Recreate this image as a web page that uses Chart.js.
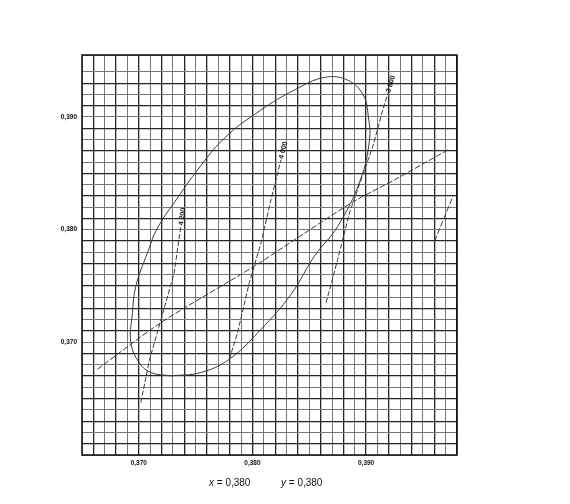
<!DOCTYPE html>
<html>
<head>
<meta charset="utf-8">
<script src="https://cdn.jsdelivr.net/npm/chart.js@4"></script>
<style>
  body { margin: 0; background: #fff; }
</style>
</head>
<body>
<canvas id="chromaChart" width="570" height="504"></canvas>
<script>
// ellipse (closed loop)
const ellipseX = [0.37282, 0.37106, 0.37003, 0.36930, 0.36944, 0.36974, 0.37076, 0.37164, 0.37370, 0.37473,
                  0.37752, 0.38075, 0.38369, 0.38633, 0.38838, 0.38975, 0.39020, 0.39030, 0.38950, 0.38750,
                  0.38545, 0.38339, 0.38075, 0.37796, 0.37546, 0.37282];
const ellipseY = [0.36702, 0.36732, 0.36820, 0.36997, 0.37263, 0.37499, 0.37794, 0.38015, 0.38324, 0.38472,
                  0.38811, 0.39062, 0.39239, 0.39351, 0.39327, 0.39195, 0.39003, 0.38796, 0.38442, 0.38029,
                  0.37764, 0.37425, 0.37115, 0.36850, 0.36732, 0.36702];

// long diagonal locus
const locusX = [0.36636, 0.37194, 0.38016, 0.38868, 0.39250, 0.39720];
const locusY = [0.36761, 0.37174, 0.37676, 0.38236, 0.38442, 0.38708];

// short piece at the right edge
const stubX = [0.39602, 0.39764];
const stubY = [0.37897, 0.38295];

// iso-temperature lines
const iso4200X = [0.37018, 0.37091, 0.37179, 0.37311, 0.37370];
const iso4200Y = [0.36466, 0.36835, 0.37145, 0.37617, 0.38030];
const iso4000X = [0.37796, 0.37869, 0.37972, 0.38075, 0.38163, 0.38251];
const iso4000Y = [0.36850, 0.37086, 0.37528, 0.37882, 0.38265, 0.38620];
const iso3800X = [0.38648, 0.38750, 0.38853, 0.39059, 0.39147, 0.39191];
const iso3800Y = [0.37351, 0.37735, 0.38147, 0.38737, 0.39062, 0.39209];
const isoLabels = ['4 200', '4 000', '3 800'];

const xTickLabels = [0.370, 0.380, 0.390];
const yTickLabels = [0.370, 0.380, 0.390];

function pts(xs, ys) {
  return xs.map((x, i) => ({ x: x, y: ys[i] }));
}

function fmt(v) {
  return v.toFixed(3).replace('.', ',');
}

function isLabelled(v, list) {
  return list.some(t => Math.abs(t - v) < 0.00001);
}

const lineStyle = {
  showLine: true,
  pointRadius: 0,
  borderColor: '#3c3c3c',
  borderWidth: 1,
  fill: false
};

const overlay = {
  id: 'overlay',
  afterDatasetsDraw(chart) {
    const ctx = chart.ctx;
    const a = chart.chartArea;
    const xs = chart.scales.x;
    const ys = chart.scales.y;
    ctx.save();
    ctx.strokeStyle = '#111';
    ctx.lineWidth = 1.5;
    ctx.strokeRect(a.left, a.top, a.right - a.left, a.bottom - a.top);

    // labels at the top end of each iso line, along the line
    const isoSets = [[iso4200X, iso4200Y], [iso4000X, iso4000Y], [iso3800X, iso3800Y]];
    ctx.fillStyle = '#111';
    ctx.font = 'bold 7px "Liberation Sans", Arial, sans-serif';
    ctx.textBaseline = 'middle';
    ctx.textAlign = 'left';
    isoSets.forEach((s, i) => {
      const n = s[0].length;
      const x1 = xs.getPixelForValue(s[0][n - 2]), y1 = ys.getPixelForValue(s[1][n - 2]);
      const x2 = xs.getPixelForValue(s[0][n - 1]), y2 = ys.getPixelForValue(s[1][n - 1]);
      const ang = Math.atan2(y2 - y1, x2 - x1);
      ctx.save();
      ctx.translate(x2, y2);
      ctx.rotate(ang);
      ctx.fillText(isoLabels[i], 1, 0);
      ctx.restore();
    });

    // caption under the chart
    ctx.fillStyle = '#111';
    const cy = 483;
    const parts = [['x', 209], ['y', 281]];
    parts.forEach(p => {
      ctx.font = 'italic 10px "Liberation Sans", Arial, sans-serif';
      ctx.fillText(p[0], p[1], cy);
      const w = ctx.measureText(p[0]).width;
      ctx.font = '10px "Liberation Sans", Arial, sans-serif';
      ctx.fillText(' = 0,380', p[1] + w, cy);
    });
    ctx.restore();
  }
};

new Chart(document.getElementById('chromaChart').getContext('2d'), {
  type: 'scatter',
  data: {
    datasets: [
      Object.assign({ data: pts(ellipseX, ellipseY), tension: 0.4 }, lineStyle),
      Object.assign({ data: pts(locusX, locusY), tension: 0.3, borderDash: [6, 2] }, lineStyle),
      Object.assign({ data: pts(stubX, stubY), borderDash: [6, 2] }, lineStyle),
      Object.assign({ data: pts(iso4200X, iso4200Y), borderDash: [5, 2] }, lineStyle),
      Object.assign({ data: pts(iso4000X, iso4000Y), borderDash: [5, 2] }, lineStyle),
      Object.assign({ data: pts(iso3800X, iso3800Y), borderDash: [5, 2] }, lineStyle)
    ]
  },
  options: {
    responsive: false,
    animation: false,
    layout: { padding: { left: 0, right: 113, top: 55, bottom: 29 } },
    plugins: {
      legend: { display: false },
      tooltip: { enabled: false }
    },
    scales: {
      x: {
        type: 'linear',
        min: 0.365,
        max: 0.398,
        afterFit(scale) { scale.height = 20; },
        border: { display: false },
        grid: {
          drawTicks: false,
          color: c => (Math.round(c.tick.value * 1000) % 2 === 0 ? '#262626' : '#777'),
          lineWidth: c => (Math.round(c.tick.value * 1000) % 2 === 0 ? 1.3 : 1)
        },
        ticks: {
          stepSize: 0.001,
          autoSkip: false,
          maxRotation: 0,
          padding: 4,
          color: '#111',
          font: { size: 6.5, weight: 'bold', family: '"Liberation Sans", Arial, sans-serif' },
          callback: v => (isLabelled(v, xTickLabels) ? fmt(v) : '')
        }
      },
      y: {
        type: 'linear',
        min: 0.360,
        max: 0.3955,
        afterFit(scale) { scale.width = 82; },
        border: { display: false },
        grid: {
          drawTicks: false,
          color: c => (Math.round(c.tick.value * 1000) % 2 === 1 ? '#262626' : '#777'),
          lineWidth: c => (Math.round(c.tick.value * 1000) % 2 === 1 ? 1.3 : 1)
        },
        ticks: {
          stepSize: 0.001,
          autoSkip: false,
          padding: 5,
          color: '#111',
          font: { size: 6.5, weight: 'bold', family: '"Liberation Sans", Arial, sans-serif' },
          callback: v => (isLabelled(v, yTickLabels) ? fmt(v) : '')
        }
      }
    }
  },
  plugins: [overlay]
});
</script>
</body>
</html>
